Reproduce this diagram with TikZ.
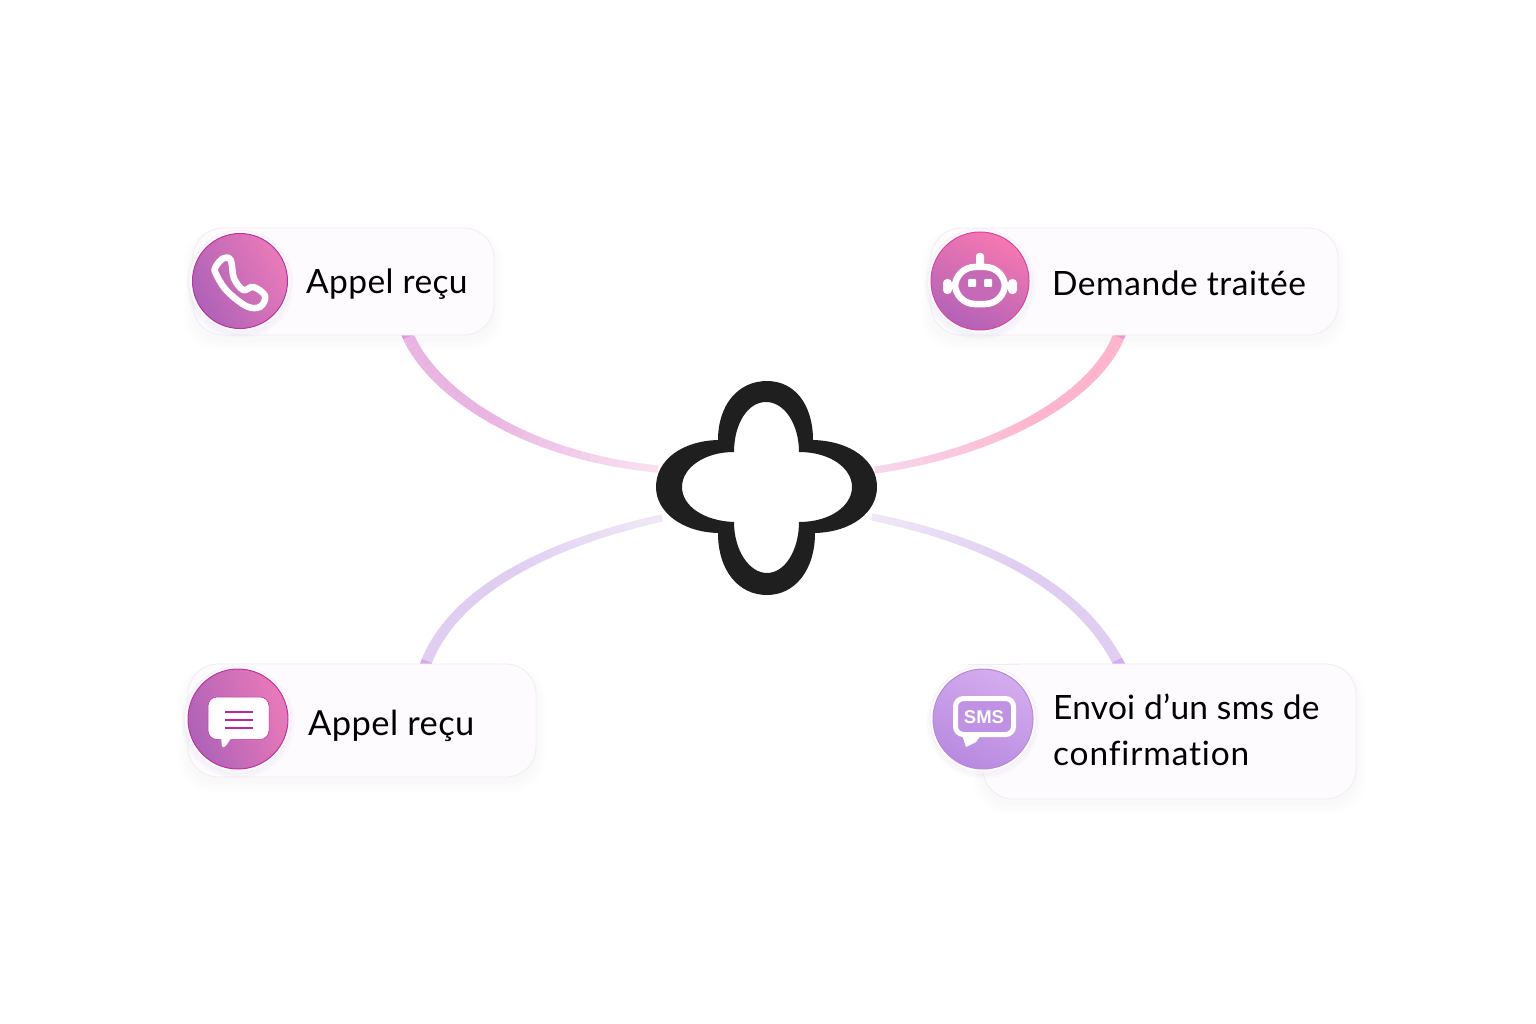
\documentclass[tikz,border=0pt]{standalone}
\usepackage{fontspec}
\setmainfont[Ligatures={NoCommon,NoContextual}]{Lato}
\newfontfamily\smsfont{Liberation Sans}
\usetikzlibrary{calc}
\definecolor{cardfill}{HTML}{FDFBFE}
\definecolor{cardedge}{HTML}{F2EBF3}
\definecolor{ringedge}{HTML}{F6F0F6}
\definecolor{inkblack}{HTML}{1F1F1F}
\definecolor{shadowc}{HTML}{6A3A8A}
\definecolor{lineA}{HTML}{EAB4E2}\definecolor{lineB}{HTML}{F9E2F0}
\definecolor{lineC}{HTML}{FDB4CC}\definecolor{lineD}{HTML}{F6D8EC}
\definecolor{lineE}{HTML}{DFCDF2}\definecolor{lineF}{HTML}{F0E8F7}
\definecolor{lineTop}{HTML}{B058D8}
\definecolor{phoneL}{HTML}{AE62B8}\definecolor{phoneR}{HTML}{EA7AB8}\definecolor{rimA}{HTML}{C22EA4}
\definecolor{botT}{HTML}{F678B0}\definecolor{botB}{HTML}{B262B8}\definecolor{rimB}{HTML}{E03EA4}
\definecolor{smsT}{HTML}{D4ACEE}\definecolor{smsB}{HTML}{B88AE0}\definecolor{rimC}{HTML}{B488DE}
\definecolor{chatline}{HTML}{C024A4}
\pgfdeclarelayer{back}
\pgfsetlayers{back,main}
\tikzset{
  x=1pt,y=-1pt,
  cardbox/.style={draw=cardedge,line width=.8pt,fill=cardfill,rounded corners=30pt,inner sep=0pt,outer sep=0pt},
  disc/.style={circle,inner sep=0pt,outer sep=0pt,line width=1pt,minimum size=#1},
  label text/.style={anchor=base west,inner sep=0pt,font=\fontsize{33.5}{33.5}\selectfont,text=black},
  icon line/.style={draw=white,line width=6.5pt,line join=round},
  eyebox/.style={fill=white,rounded corners=1pt}
}
\newcommand{\softcard}[4]{%
  \foreach \i in {1,...,6}{\fill[shadowc,opacity=.005,rounded corners=32pt]
    (#1-\i*1.6,#2-\i*.6+5) rectangle (#3+\i*1.6,#4+\i*1.6+5);}}
\newcommand{\softdisc}[3]{%
  \foreach \i in {1,...,4}{\fill[shadowc,opacity=.008] (#1,#2+3) circle[radius=#3+3+\i];}
  \fill[white] (#1,#2) circle[radius=#3+3];
  \draw[ringedge,line width=.8pt] (#1,#2) circle[radius=#3+3];}
% name, start, c1, c2, end, colour A, colour B, width A, width B
\newcommand{\gradconn}[9]{%
  \draw[#7,line width=#9pt] #2 .. controls #3 and #4 .. #5;
  \foreach \k in {0,...,40}{\path #2 .. controls #3 and #4 .. #5 coordinate[pos=\k/40] (#1-\k);}
  \foreach \k in {0,...,39}{%
    \pgfmathtruncatemacro{\n}{\k+1}%
    \pgfmathsetmacro{\pc}{min(100,(40-\k)*5)}%
    \pgfmathsetmacro{\wd}{#8+(#9-#8)*\k/39}%
    \ifnum\k=0\relax
      \draw[#6!72!lineTop,line width=\wd pt,line cap=butt] (#1-\k) -- (#1-\n);
    \else
      \draw[#6!\pc!#7,line width=\wd pt,line cap=butt] (#1-\k) -- (#1-\n);
    \fi}}
\begin{document}
\begin{tikzpicture}
\useasboundingbox (0,0) rectangle (1536,1024);
\begin{pgfonlayer}{back}
\fill[white] (0,0) rectangle (1536,1024);
\softcard{193}{228}{494}{335}
\softcard{931}{228}{1338}{335}
\softcard{188}{664}{536}{777}
\softcard{983}{664}{1356}{799}
\end{pgfonlayer}

% cards
\node[cardbox,minimum width=301pt,minimum height=107pt] (card1) at (343.5,281.5) {};
\node[cardbox,minimum width=407pt,minimum height=107pt] (card2) at (1134.5,281.5) {};
\node[cardbox,minimum width=348pt,minimum height=113pt] (card3) at (362,720.5) {};
\node[cardbox,minimum width=373pt,minimum height=135pt] (card4) at (1169.5,731.5) {};
\fill[cardfill] (966,664.4) rectangle (1020,720);
\draw[cardedge,line width=.8pt] (968,664) -- (1020,664);

% flower
\node[minimum width=221pt,minimum height=214pt,inner sep=0pt,outer sep=0pt] (flower) at (766.5,488) {};
\fill[inkblack,even odd rule]
  (718,440) .. controls (718,405) and (738,381) .. (767,381)
  .. controls (795,381) and (813,405) .. (813,440)
  .. controls (850,441) and (877,460) .. (877,487)
  .. controls (877,512) and (852,532) .. (815,533)
  .. controls (815,570) and (795,595) .. (767,595)
  .. controls (738,595) and (718,570) .. (718,533)
  .. controls (682,532) and (656,512) .. (656,487)
  .. controls (656,460) and (682,441) .. (718,440) -- cycle
  (734,452) .. controls (734,425) and (747,402) .. (766,402)
  .. controls (785,402) and (799,425) .. (799,452)
  .. controls (830,452) and (852,468) .. (852,487)
  .. controls (852,506) and (830,522) .. (799,522)
  .. controls (799,550) and (785,573) .. (767,573)
  .. controls (749,573) and (734,550) .. (734,522)
  .. controls (704,521) and (682,506) .. (682,487)
  .. controls (682,468) and (704,452) .. (734,452) -- cycle;

% connectors
\begin{pgfonlayer}{back}
\gradconn{ca}{([xshift=214pt,yshift=2pt]card1.south west)}{(428,388)}{(520,456)}{([xshift=2pt,yshift=19pt]flower.west)}{lineA}{lineB}{12}{7}
\gradconn{cb}{([xshift=189pt,yshift=2pt]card2.south west)}{(1100,390)}{(1010,450)}{([xshift=-2pt,yshift=18pt]flower.east)}{lineC}{lineD}{12}{7}
\gradconn{cc}{([xshift=237pt,yshift=-2pt]card3.north west)}{(450,595)}{(540,545)}{([xshift=6pt,yshift=-30pt]flower.west)}{lineE}{lineF}{11}{7}
\gradconn{cd}{([xshift=137pt,yshift=-2pt]card4.north west)}{(1080,585)}{(985,540)}{([xshift=-5pt,yshift=-29pt]flower.east)}{lineE}{lineF}{11}{7}
\end{pgfonlayer}

% phone disc
\softdisc{240}{281}{47.5}
\node[disc=95pt,draw=rimA,left color=phoneL,right color=phoneR,shading angle=118] (disc1) at (240,281) {};
\draw[icon line] plot[smooth cycle,tension=.6] coordinates {(215.7,266.7) (223.3,258.3) (230.7,260) (234,278.3) (243.3,290) (253.3,287) (265,295.7) (260.3,306.7) (246.7,306.3) (226.7,290.7) (215.7,273.3)};
\node[label text] (text1) at (306,294) {\addfontfeature{LetterSpace=1.2}Appel reçu};

% robot disc
\softdisc{980}{281}{49}
\node[disc=98pt,draw=rimB,top color=botT,bottom color=botB,shading angle=-25] (disc2) at (980,281) {};
\fill[white,rounded corners=3pt] (976,253) rectangle (984,268);
\draw[white,fill=botB!70!botT,line width=6.5pt,rounded corners=20pt] (955,267) rectangle (1005,304);
\fill[eyebox] (968,279) rectangle (976,287);
\fill[eyebox] (984,279) rectangle (992,287);
\fill[white,rounded corners=4pt] (943,279) rectangle (952,294);
\fill[white,rounded corners=4pt] (1008,279) rectangle (1017,294);
\node[label text] (text2) at (1052,295) {\addfontfeature{LetterSpace=1.6}Demande traitée};

% chat disc
\softdisc{238}{719}{50}
\node[disc=100pt,draw=rimA,left color=phoneL,right color=phoneR,shading angle=110] (disc3) at (238,719) {};
\fill[white,draw=chatline,line width=.5pt,rounded corners=9pt] (208,697) rectangle (269,739.5);
\fill[white,rounded corners=1pt] (221,737) -- (232,737) -- (225,747) -- (222,747) -- cycle;
\foreach \ly in {712,720,728}{\draw[chatline,line width=1.4pt] (225,\ly) -- (253,\ly);}
\node[label text,font=\fontsize{34.5}{34.5}\selectfont] (text3) at (308,735.5) {\addfontfeature{LetterSpace=1.2}Appel reçu};

% sms disc
\softdisc{983}{719}{50}
\node[disc=100pt,draw=rimC,top color=smsT,bottom color=smsB,shading angle=-25] (disc4) at (983,719) {};
\draw[white,fill=smsB!75!smsT,line width=5pt,rounded corners=8pt] (955.5,698.5) rectangle (1013.5,734.5);
\fill[white] (962,735) -- (981,735) -- (976,742) -- (966,747) -- cycle;
\node[inner sep=0pt,text=white,font=\fontsize{18.5}{18.5}\smsfont\bfseries\selectfont] (smslabel) at (984,717.5) {SMS};
\node[label text] (text4a) at (1053,719) {\addfontfeature{LetterSpace=.75}Envoi d’un sms de};
\node[label text] (text4b) at (1053,765.5) {\addfontfeature{LetterSpace=2.5}confirmation};
\end{tikzpicture}
\end{document}
